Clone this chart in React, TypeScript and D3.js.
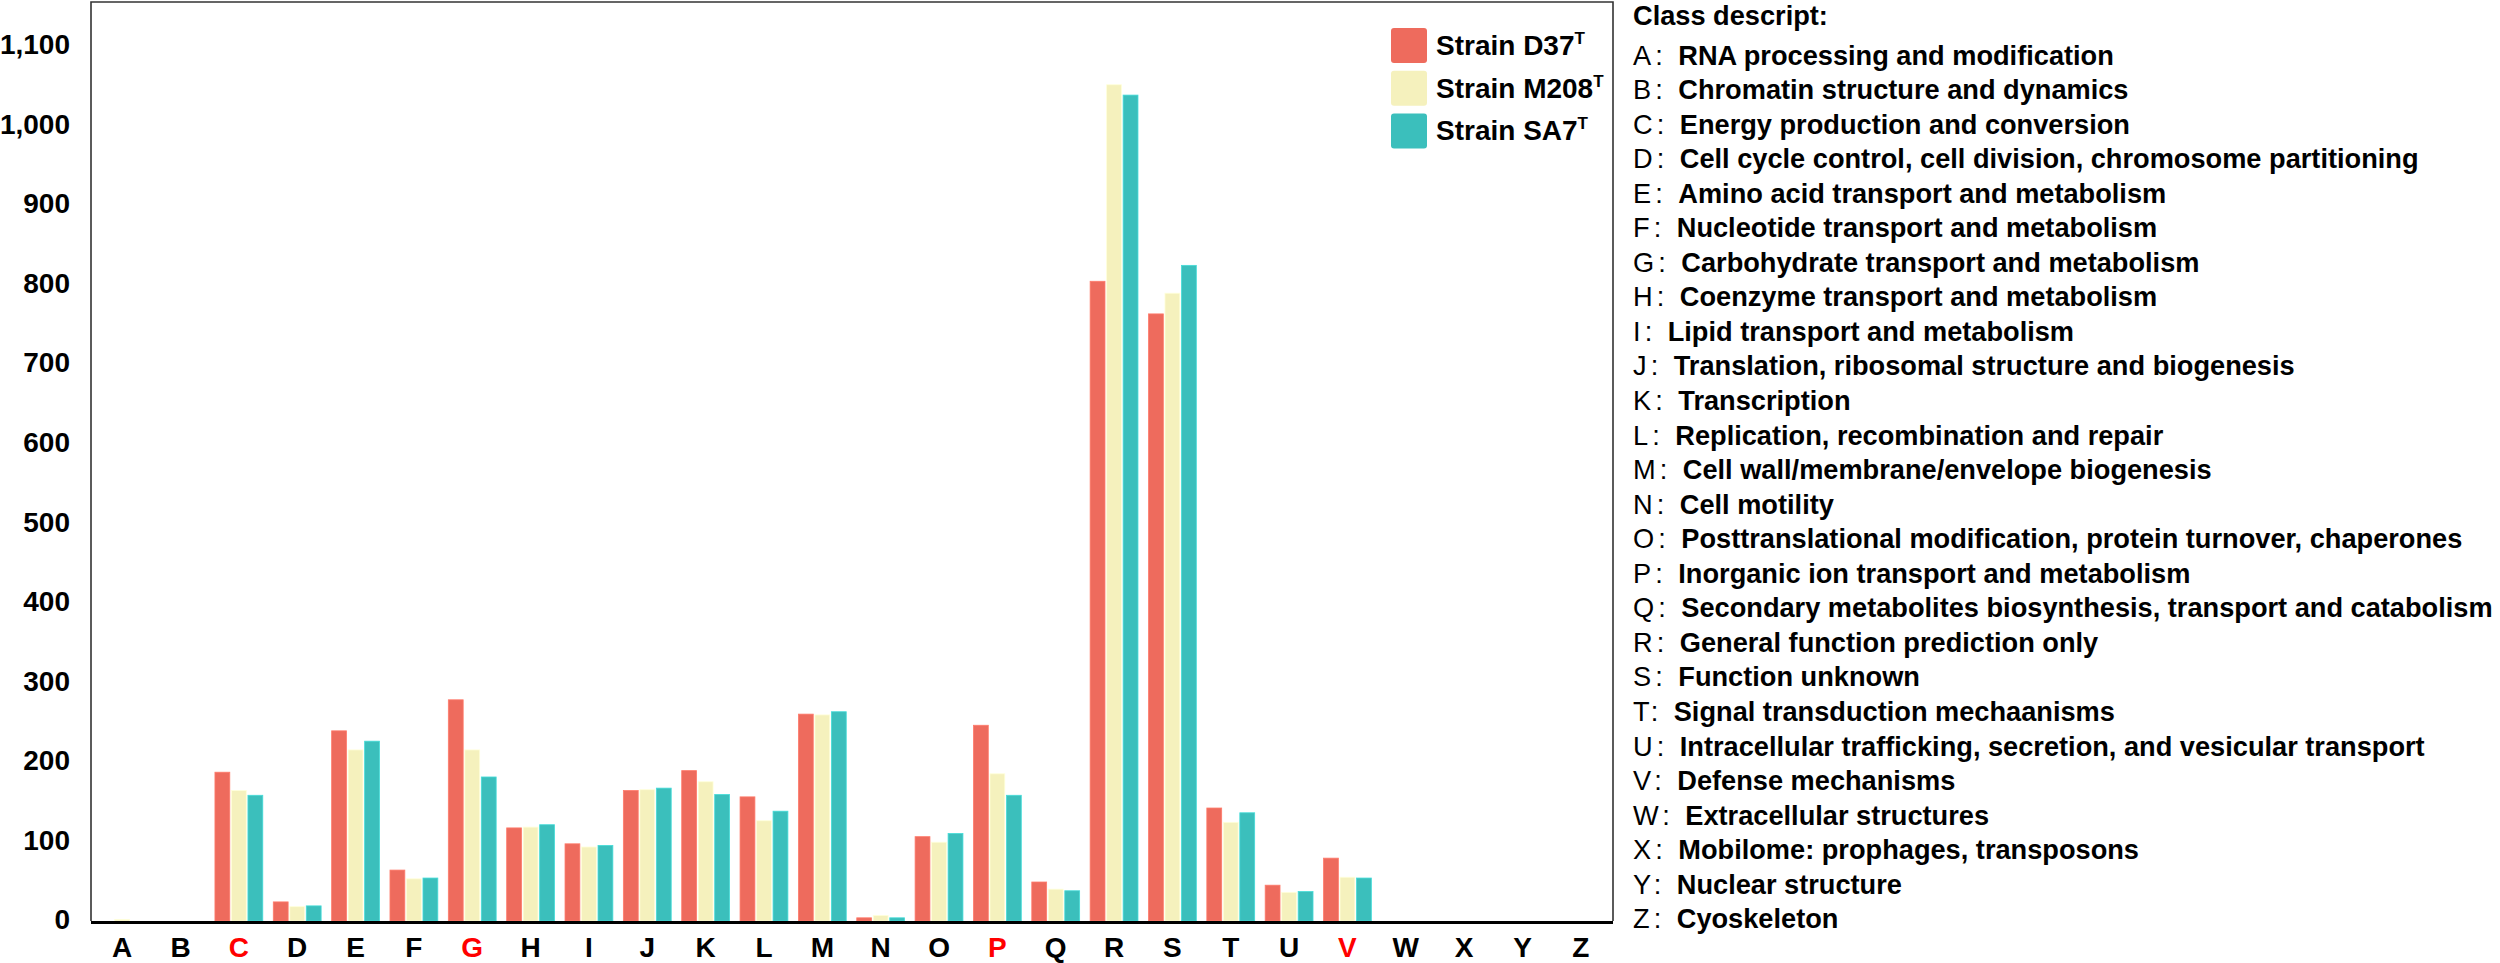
import { useEffect, useRef } from 'react'
import * as d3 from 'd3'

const categories = 'ABCDEFGHIJKLMNOPQRSTUVWXYZ'.split('')
const redCategories = ['C', 'G', 'P', 'V']

const strains = ['Strain D37', 'Strain M208', 'Strain SA7']
const colors = ['#EE6B5D', '#F5F1BD', '#3BBFBC']

const d37 = [0, 0, 187, 24, 239, 64, 278, 117, 97, 164, 189, 156, 260, 4, 106, 246, 49, 804, 763, 142, 45, 79, 0, 0, 0, 0]
const m208 = [2, 0, 164, 18, 215, 53, 215, 118, 93, 165, 175, 126, 259, 7, 99, 185, 40, 1051, 789, 124, 36, 55, 0, 0, 0, 0]
const sa7 = [0, 0, 158, 19, 226, 54, 181, 121, 95, 167, 159, 138, 263, 4, 110, 158, 38, 1038, 824, 136, 37, 54, 0, 0, 0, 0]

const yTicks = [0, 100, 200, 300, 400, 500, 600, 700, 800, 900, 1000, 1100]

const classDescriptions = [
  'RNA processing and modification',
  'Chromatin structure and dynamics',
  'Energy production and conversion',
  'Cell cycle control, cell division, chromosome partitioning',
  'Amino acid transport and metabolism',
  'Nucleotide transport and metabolism',
  'Carbohydrate transport and metabolism',
  'Coenzyme transport and metabolism',
  'Lipid transport and metabolism',
  'Translation, ribosomal structure and biogenesis',
  'Transcription',
  'Replication, recombination and repair',
  'Cell wall/membrane/envelope biogenesis',
  'Cell motility',
  'Posttranslational modification, protein turnover, chaperones',
  'Inorganic ion transport and  metabolism',
  'Secondary metabolites biosynthesis, transport and catabolism',
  'General function prediction only',
  'Function unknown',
  'Signal transduction mechaanisms',
  'Intracellular trafficking, secretion, and vesicular transport',
  'Defense mechanisms',
  'Extracellular structures',
  'Mobilome: prophages, transposons',
  'Nuclear structure',
  'Cyoskeleton',
]

const FONT = 'Arial, "Liberation Sans", sans-serif'

export default function App() {
  const svgRef = useRef<SVGSVGElement>(null)

  useEffect(() => {
    if (!svgRef.current) return
    const svg = d3.select(svgRef.current)
    svg.selectAll('*').remove()

    const width = 2500
    const height = 963
    const plot = { left: 91, top: 2, right: 1613, bottom: 921 }

    svg.attr('width', width).attr('height', height).style('font-family', FONT)

    const series = [d37, m208, sa7]
    const rows = categories.map((c, i) => ({ cat: c, values: series.map((s) => s[i]) }))

    const x0 = d3
      .scaleBand<string>()
      .domain(categories)
      .range([93, 1610])
      .paddingInner(0.18)
      .paddingOuter(0.09)

    const x1 = d3
      .scaleBand<number>()
      .domain([0, 1, 2])
      .range([0, x0.bandwidth()])
      .paddingInner(0.1)

    const y = d3.scaleLinear().domain([0, 1155]).range([plot.bottom, plot.top])

    // Bars
    const groups = svg
      .append('g')
      .selectAll('g')
      .data(rows)
      .enter()
      .append('g')
      .attr('transform', (d) => `translate(${x0(d.cat)},0)`)

    groups
      .selectAll('rect')
      .data((d) => d.values.map((v, k) => ({ v, k })))
      .enter()
      .append('rect')
      .attr('x', (d) => x1(d.k) || 0)
      .attr('width', x1.bandwidth())
      .attr('y', (d) => y(d.v))
      .attr('height', (d) => y(0) - y(d.v))
      .attr('fill', (d) => colors[d.k])
      .attr('stroke', (d) => d3.color(colors[d.k])!.brighter(0.4).toString())
      .attr('stroke-width', 0.8)

    // Frame
    svg
      .append('path')
      .attr('d', `M${plot.left},${plot.bottom}V${plot.top}H${plot.right}V${plot.bottom}`)
      .attr('fill', 'none')
      .attr('stroke', '#333')
      .attr('stroke-width', 1.6)

    svg
      .append('line')
      .attr('x1', plot.left)
      .attr('x2', plot.right)
      .attr('y1', plot.bottom + 1.5)
      .attr('y2', plot.bottom + 1.5)
      .attr('stroke', '#000')
      .attr('stroke-width', 3)

    // Y axis labels
    const yAxis = d3
      .axisLeft(y)
      .tickValues(yTicks)
      .tickSize(0)
      .tickPadding(0)
      .tickFormat((d) => d3.format(',')(d as number))

    const yg = svg.append('g').attr('transform', 'translate(70,-1)').call(yAxis)
    yg.select('.domain').remove()
    yg.selectAll('text')
      .attr('font-size', 28)
      .attr('font-weight', 'bold')
      .attr('font-family', FONT)
      .attr('fill', '#000')

    // X axis labels
    const xAxis = d3.axisBottom(x0).tickSize(0).tickPadding(16)
    const xg = svg.append('g').attr('transform', `translate(0,${plot.bottom})`).call(xAxis)
    xg.select('.domain').remove()
    xg.selectAll('text')
      .attr('font-size', 28)
      .attr('font-weight', 'bold')
      .attr('font-family', FONT)
      .attr('fill', (d) => (redCategories.includes(d as string) ? '#FF0000' : '#000'))

    // Strain legend
    const legend = svg.append('g').attr('transform', 'translate(1391,28)')
    strains.forEach((name, i) => {
      const row = legend.append('g').attr('transform', `translate(0,${i * 42.7})`)
      row
        .append('rect')
        .attr('width', 36)
        .attr('height', 35)
        .attr('rx', 3)
        .attr('fill', colors[i])
      const t = row
        .append('text')
        .attr('x', 45)
        .attr('y', 27)
        .attr('font-size', 28)
        .attr('font-weight', 'bold')
        .attr('fill', '#000')
      t.append('tspan').text(name)
      t.append('tspan').attr('font-size', 17).attr('dy', -11).text('T')
    })

    // Class description list
    const desc = svg
      .append('g')
      .attr('font-size', 27.2)
      .attr('fill', '#000')
      .style('white-space', 'pre')

    desc
      .append('text')
      .attr('x', 1633)
      .attr('y', 25)
      .attr('font-weight', 'bold')
      .text('Class descript:')

    classDescriptions.forEach((label, i) => {
      const t = desc
        .append('text')
        .attr('x', 1633)
        .attr('y', 64.5 + i * 34.55)
      t.append('tspan').attr('font-weight', 'normal').text(categories[i])
      t.append('tspan').attr('font-weight', 'normal').attr('dx', '0.15em').text(':')
      t.append('tspan').attr('font-weight', 'bold').attr('dx', '0.57em').text(label)
    })
  }, [])

  return (
    <div style={{ position: 'absolute', left: 0, top: 0, width: 2500, height: 963, overflow: 'hidden', background: '#fff' }}>
      <svg ref={svgRef}></svg>
    </div>
  )
}
